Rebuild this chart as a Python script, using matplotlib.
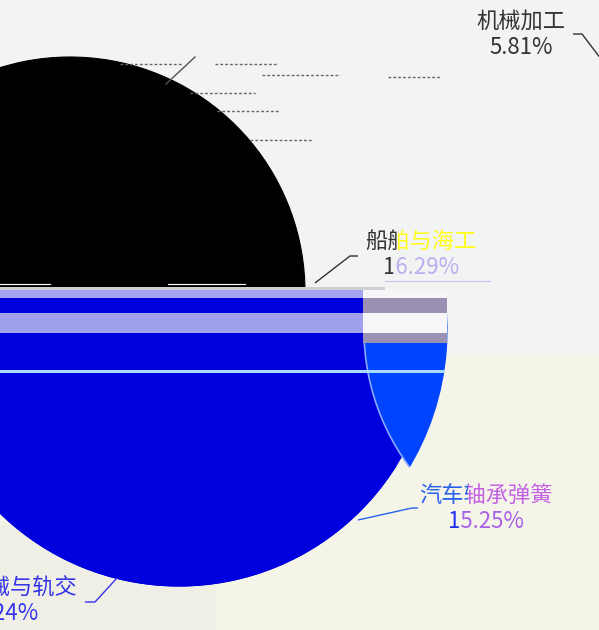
import matplotlib
matplotlib.use("Agg")
import matplotlib.pyplot as plt
from matplotlib.patches import Rectangle, Polygon, Circle

plt.rcParams["font.family"] = ["Noto Sans CJK SC", "DejaVu Sans"]

# ── Data ──────────────────────────────────────────────────────────────────────
categories = ["汽车轴承弹簧", "其他", "船舶与海工", "机械加工", "工程机械与轨交"]
values = [15.25, 40.41, 16.29, 5.81, 22.24]

# ── Layout (pixel space, y grows downwards) ───────────────────────────────────
W, H = 599, 630
BLACK_CENTER, BLACK_R = (70, 292), 235
BLUE_CENTER, BLUE_R = (179, 330), 256
LENS_CENTER, LENS_R = (593, 330), 229
DARK_BLUE, BRIGHT_BLUE = "#0000de", "#0044ff"
FS = 16

label_layout = {
    "机械加工":       dict(x=521, y=21, line=[(573, 34), (582, 34), (601, 59)], color="#333333"),
    "船舶与海工":     dict(x=421, y=242, line=[(315, 283), (350, 256), (358, 256)], color="#333333"),
    "汽车轴承弹簧":   dict(x=486, y=496, line=[(358, 520), (412, 508), (418, 508)], color="#2a62f0"),
    "工程机械与轨交": dict(x=0, y=588, line=[(117, 578), (95, 602), (85, 602)], color="#3434ea"),
}

# garbled label rows in the upper part (y, x0, x1)
garbled = [(64, 120, 182), (64, 215, 278), (75, 262, 340), (77, 388, 440),
           (93, 190, 255), (111, 217, 280), (140, 250, 312)]

fig = plt.figure(figsize=(W / 100, H / 100), dpi=100)
ax = fig.add_axes([0, 0, 1, 1])


def poly_box(x0, y0, x1, y1):
    return Polygon([(x0, y0), (x1, y0), (x1, y1), (x0, y1)], closed=True,
                   transform=ax.transData)


def rect_box(x0, y0, x1, y1):
    # negative height so the box is upright on screen (y axis is inverted)
    return Rectangle((x0, y1), x1 - x0, -(y1 - y0), transform=ax.transData)


def clip_all(patches, y0, y1, z):
    for p in patches:
        p.set_clip_on(True)
        p.set_clip_path(poly_box(-10, y0, W + 10, y1))
        p.set_zorder(z)


# background
ax.add_patch(Rectangle((0, 0), W, 355, color="#f2f3f3", zorder=0))
ax.add_patch(Rectangle((0, 355), W, H - 355, color="#f5f4e9", zorder=0))
ax.add_patch(Rectangle((0, 525), 215, 105, color="#f0efe5", zorder=0))

# upper half: black pie
black_wedges, _ = ax.pie(values, center=BLACK_CENTER, radius=BLACK_R,
                         colors=["black"] * len(values), frame=True,
                         wedgeprops=dict(linewidth=0.8, edgecolor="black"))
clip_all(black_wedges, -10, 286.5, 2)

# lower half: blue pie (with a dark backing disc)
backing, _ = ax.pie([sum(values)], center=BLUE_CENTER, radius=BLUE_R, colors=[DARK_BLUE],
                    frame=True, wedgeprops=dict(linewidth=0.8, edgecolor=DARK_BLUE))
clip_all(backing, 290, H + 10, 1.5)
blue_wedges, _ = ax.pie(values, center=BLUE_CENTER, radius=BLUE_R,
                        colors=[DARK_BLUE] * len(values), frame=True,
                        startangle=32, counterclock=False,
                        wedgeprops=dict(linewidth=0.8, edgecolor=DARK_BLUE))
clip_all(blue_wedges, 290, H + 10, 2)

# highlighted slice, cut into a lens by the glitch
hi = blue_wedges[categories.index("汽车轴承弹簧")]
hi.set_radius(268)
hi.set_facecolor(BRIGHT_BLUE)
hi.set_edgecolor(BRIGHT_BLUE)
hi.set_zorder(3)
lens = Circle(LENS_CENTER, LENS_R, transform=ax.transData)
hi.set_clip_path(rect_box(-10, 290, W + 10, H + 10))
hi.set_clip_path(lens)
rim = Circle(LENS_CENTER, LENS_R, facecolor="none", edgecolor="#8aa8ff", lw=1.2, zorder=3.5)
ax.add_patch(rim)
rim.set_clip_path(rect_box(-10, 290, W + 10, H + 10))
rim.set_clip_path(hi)

# glitch stripes across the seam
stripes = [(290, 298, "#a3a3f0", "#f6f6f8"),
           (298, 313, DARK_BLUE, "#9a90b4"),
           (313, 333, "#a0a0ee", "#f6f6f8"),
           (333, 343, DARK_BLUE, "#9a90b4")]
for y0, y1, cl, cr in stripes:
    ax.add_patch(Rectangle((0, y0), 363, y1 - y0, color=cl, lw=0, zorder=4))
    ax.add_patch(Rectangle((363, y0), 84, y1 - y0, color=cr, lw=0, zorder=4))
ax.add_patch(Rectangle((0, 286.5), 385, 3.5, color="#cfcfd6", lw=0, zorder=4))
ax.add_patch(Rectangle((0, 369.5), 445, 3.5, color="#a8dcff", lw=0, zorder=4))
ax.plot([0, 50], [283.5, 283.5], color="white", lw=0.8, zorder=4)
ax.plot([168, 245], [283.5, 283.5], color="white", lw=0.8, zorder=4)
ax.plot([385, 490], [281, 281], color="#c8c0f0", lw=0.8, zorder=4)

# garbled label remnants + leader in the black zone
for y, x0, x1 in garbled:
    ax.plot([x0, x1], [y, y], color="#666666", lw=1.0, ls=(0, (2, 1.5)), zorder=3)
ax.plot([166, 195], [84, 57], color="#555555", lw=1.0, zorder=3)


def split_text(x, y, s, c_left, c_right, x_split):
    for col, clip in [(c_left, rect_box(-60, -10, x_split, H + 10)),
                      (c_right, rect_box(x_split, -10, W + 60, H + 10))]:
        t = ax.text(x, y, s, ha="center", va="center", fontsize=FS, color=col, zorder=6)
        t.set_clip_on(True)
        t.set_clip_path(clip)


# labels
for cat, v in zip(categories, values):
    if cat not in label_layout:
        continue
    lay = label_layout[cat]
    xs, ys = zip(*lay["line"])
    ax.plot(xs, ys, color=lay["color"], lw=1.0, zorder=5, solid_capstyle="butt")
    pct = f"{v:.2f}%"
    if cat == "船舶与海工":
        split_text(lay["x"], lay["y"], cat, "#333333", "#ffff1a", 398)
        split_text(lay["x"], lay["y"] + 26, pct, "#333333", "#b8b0f0", 393)
    elif cat == "汽车轴承弹簧":
        split_text(lay["x"], lay["y"], cat, "#2a62f0", "#c462e4", 468)
        split_text(lay["x"], lay["y"] + 26, pct, "#2030f0", "#a860e6", 460)
    else:
        ax.text(lay["x"], lay["y"], cat, ha="center", va="center", fontsize=FS,
                color=lay["color"], zorder=6)
        ax.text(lay["x"], lay["y"] + 26, pct, ha="center", va="center", fontsize=FS,
                color=lay["color"], zorder=6)

ax.set_xlim(0, W)
ax.set_ylim(H, 0)
ax.set_aspect("equal")
ax.axis("off")
fig.savefig("out.png", dpi=100)
